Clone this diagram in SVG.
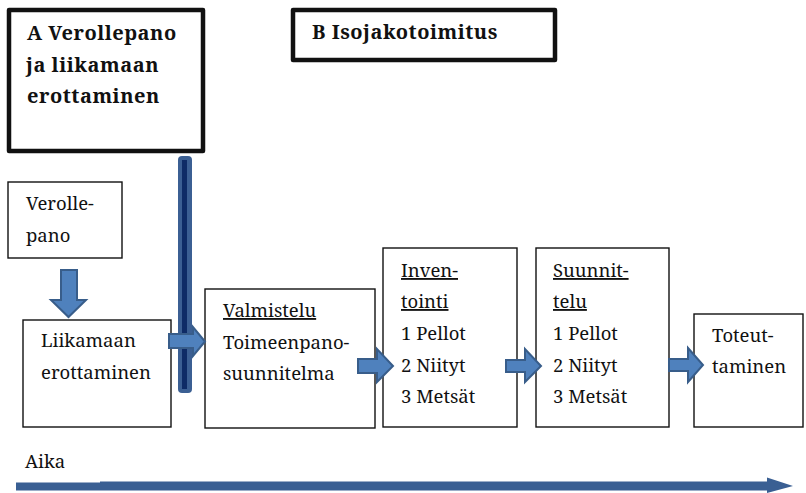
<svg xmlns="http://www.w3.org/2000/svg" width="806" height="493" viewBox="0 0 806 493">
<style>
text{font-family:"Noto Serif","Liberation Serif",serif;font-size:18.5px;fill:#111}
.t{font-weight:bold;font-size:20px;letter-spacing:0.5px}
.u{text-decoration:underline}
.box{fill:#fff;stroke:#111;stroke-width:1.4}
.big{fill:#fff;stroke:#111;stroke-width:4.5;stroke-linejoin:round}
.arr{fill:#4f81bd;stroke:#385d8a;stroke-width:2;stroke-linejoin:miter}
</style>
<g id="boxA"><rect class="big" x="9" y="10" width="194" height="141"/>
<text class="t" x="27" y="40">A Verollepano</text>
<text class="t" x="26" y="72">ja liikamaan</text>
<text class="t" x="27" y="103">erottaminen</text></g>
<g id="boxB"><rect class="big" x="293" y="10" width="262" height="50"/>
<text class="t" x="312" y="39">B Isojakotoimitus</text></g>
<g id="verollepano"><rect class="box" x="8" y="182" width="114" height="76"/>
<text x="26" y="210">Verolle-</text><text x="26" y="242">pano</text></g>
<g id="liikamaan"><rect class="box" x="23" y="320" width="148" height="107"/>
<text x="41" y="347">Liikamaan</text><text x="41" y="379">erottaminen</text></g>
<g id="valmistelu"><rect class="box" x="205" y="289" width="170" height="139"/>
<text class="u" x="223" y="317">Valmistelu</text><text x="223" y="349">Toimeenpano-</text><text x="223" y="380">suunnitelma</text></g>
<g id="inventointi"><rect class="box" x="383" y="248" width="134" height="179"/>
<text class="u" x="401" y="277">Inven-</text><text class="u" x="401" y="308">tointi</text>
<text x="401" y="340">1 Pellot</text><text x="401" y="372">2 Niityt</text><text x="401" y="403">3 Metsät</text></g>
<g id="suunnittelu"><rect class="box" x="536" y="248" width="133" height="179"/>
<text class="u" x="553" y="277">Suunnit-</text><text class="u" x="553" y="308">telu</text>
<text x="553" y="340">1 Pellot</text><text x="553" y="372">2 Niityt</text><text x="553" y="403">3 Metsät</text></g>
<g id="toteuttaminen"><rect class="box" x="694" y="314" width="109" height="113"/>
<text x="712" y="342">Toteut-</text><text x="712" y="373">taminen</text></g>
<g id="aika"><text x="25" y="468">Aika</text></g>
<g id="connectors">
<rect x="178" y="156" width="14" height="237" rx="4" fill="#3b5f93"/>
<rect x="182" y="160" width="5" height="229" fill="#0e2b66"/>
<path class="arr" d="M61 270H77V300H86L68.5 317L51 300H61Z"/>
<path class="arr" d="M169 334H193V327L205 341.5L193 356V348H169Z"/>
<path class="arr" d="M358 359H377V349L393 366L377 382V373H358Z"/>
<path class="arr" d="M506 360H525V349L541 366L525 382V372H506Z"/>
<path class="arr" d="M669 359H688V348L703 365L688 382V371H669Z"/>
<path d="M16 482.5H100V481.5H767V477.5L793 486L767 493V490.5H16Z" fill="#3a5f93"/>
</g>
</svg>
